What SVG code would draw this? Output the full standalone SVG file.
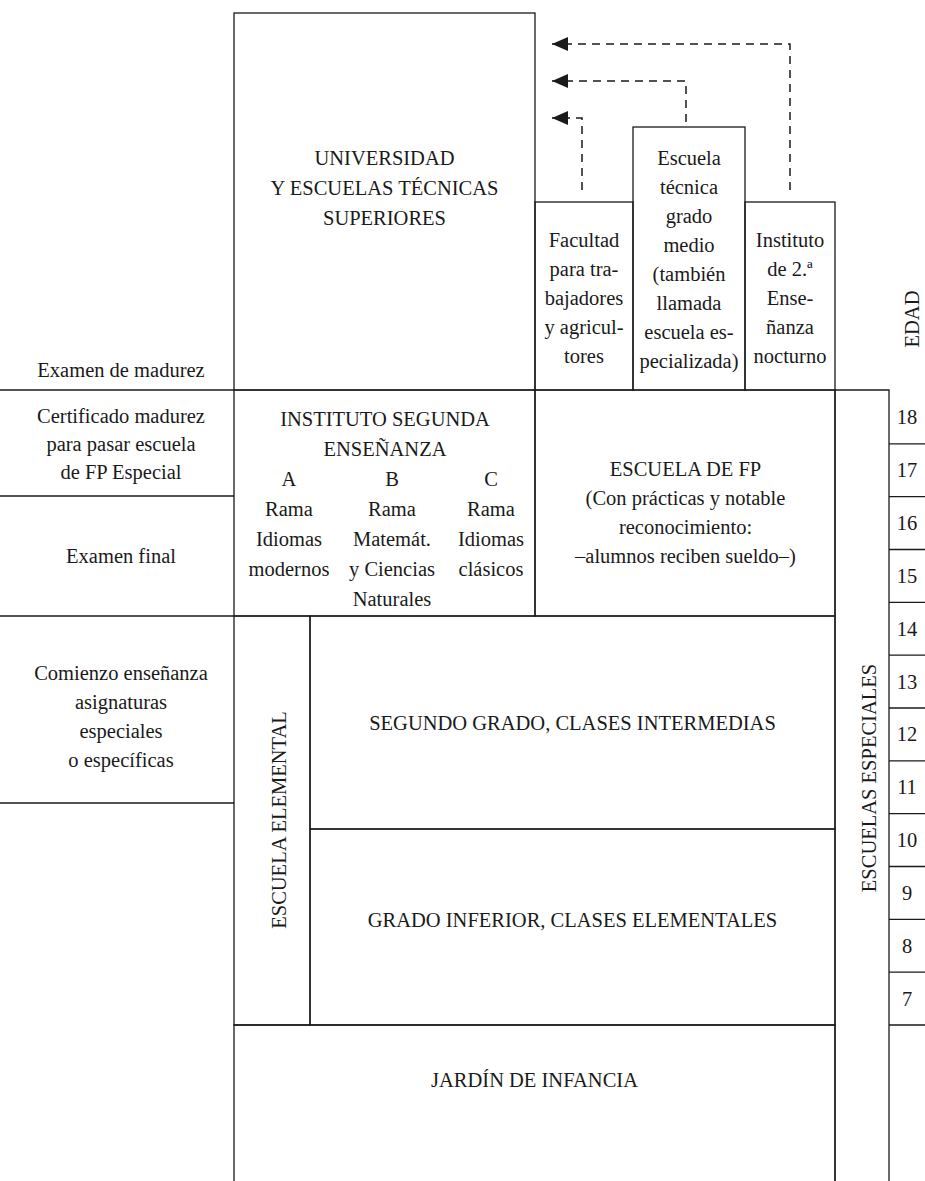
<svg xmlns="http://www.w3.org/2000/svg" width="925" height="1181" viewBox="0 0 925 1181">
<style>
  .ln{stroke:#1a1a1a;stroke-width:1.3;fill:none}
  .bx{fill:none;stroke:#1a1a1a;stroke-width:1.3}
  .dash{stroke:#1a1a1a;stroke-width:1.5;fill:none;stroke-dasharray:8 6}
  text{font-family:"Liberation Serif","Times New Roman",serif;font-size:20.5px;fill:#1a1a1a;text-anchor:middle}
</style>
<defs>
  <marker id="ah" markerUnits="userSpaceOnUse" markerWidth="17" markerHeight="14" refX="16" refY="7" orient="auto">
    <path d="M0,0 L16,7 L0,14 Z" fill="#1a1a1a"/>
  </marker>
</defs>
<rect width="925" height="1181" fill="#ffffff"/>

<g id="left-labels">
  <line class="ln" x1="0" y1="390" x2="234" y2="390"/>
  <line class="ln" x1="0" y1="496" x2="234" y2="496"/>
  <line class="ln" x1="0" y1="616" x2="234" y2="616"/>
  <line class="ln" x1="0" y1="803" x2="234" y2="803"/>
</g>
<g id="examen-madurez"><text x="121" y="377">Examen de madurez</text></g>
<g id="certificado">
  <text x="121" y="423">Certificado madurez</text>
  <text x="121" y="451">para pasar escuela</text>
  <text x="121" y="479">de FP Especial</text>
</g>
<g id="examen-final"><text x="121" y="563">Examen final</text></g>
<g id="comienzo">
  <text x="121" y="680">Comienzo enseñanza</text>
  <text x="121" y="709">asignaturas</text>
  <text x="121" y="738">especiales</text>
  <text x="121" y="767">o específicas</text>
</g>

<g id="universidad">
  <rect class="bx" x="234" y="13" width="301" height="377"/>
  <text x="384.5" y="165">UNIVERSIDAD</text>
  <text x="384.5" y="195">Y ESCUELAS TÉCNICAS</text>
  <text x="384.5" y="225">SUPERIORES</text>
</g>
<g id="facultad">
  <rect class="bx" x="535" y="202" width="98" height="188"/>
  <text x="584" y="247">Facultad</text>
  <text x="584" y="276">para tra-</text>
  <text x="584" y="305">bajadores</text>
  <text x="584" y="334">y agricul-</text>
  <text x="584" y="363">tores</text>
</g>
<g id="escuela-tecnica">
  <rect class="bx" x="633" y="127" width="112" height="263"/>
  <text x="689" y="165">Escuela</text>
  <text x="689" y="194">técnica</text>
  <text x="689" y="223">grado</text>
  <text x="689" y="252">medio</text>
  <text x="689" y="281">(también</text>
  <text x="689" y="310">llamada</text>
  <text x="689" y="339">escuela es-</text>
  <text x="689" y="368">pecializada)</text>
</g>
<g id="instituto-nocturno">
  <rect class="bx" x="745" y="202" width="90" height="188"/>
  <text x="790" y="247">Instituto</text>
  <text x="790" y="276">de 2.ª</text>
  <text x="790" y="305">Ense-</text>
  <text x="790" y="334">ñanza</text>
  <text x="790" y="363">nocturno</text>
</g>

<g id="instituto-segunda">
  <rect class="bx" x="234" y="390" width="301" height="226"/>
  <text x="385" y="426">INSTITUTO SEGUNDA</text>
  <text x="385" y="456">ENSEÑANZA</text>
  <text x="289" y="486">A</text>
  <text x="392" y="486">B</text>
  <text x="491" y="486">C</text>
  <text x="289" y="516">Rama</text>
  <text x="392" y="516">Rama</text>
  <text x="491" y="516">Rama</text>
  <text x="289" y="546">Idiomas</text>
  <text x="392" y="546">Matemát.</text>
  <text x="491" y="546">Idiomas</text>
  <text x="289" y="576">modernos</text>
  <text x="392" y="576">y Ciencias</text>
  <text x="491" y="576">clásicos</text>
  <text x="392" y="606">Naturales</text>
</g>
<g id="escuela-fp">
  <rect class="bx" x="535" y="390" width="300" height="226"/>
  <text x="685.5" y="476">ESCUELA DE FP</text>
  <text x="685.5" y="505">(Con prácticas y notable</text>
  <text x="685.5" y="534">reconocimiento:</text>
  <text x="685.5" y="563">–alumnos reciben sueldo–)</text>
</g>
<g id="escuela-elemental">
  <rect class="bx" x="234" y="616" width="76" height="409"/>
  <text transform="translate(286,820) rotate(-90)" x="0" y="0">ESCUELA ELEMENTAL</text>
</g>
<g id="segundo-grado">
  <rect class="bx" x="310" y="616" width="525" height="213"/>
  <text x="572.5" y="730">SEGUNDO GRADO, CLASES INTERMEDIAS</text>
</g>
<g id="grado-inferior">
  <rect class="bx" x="310" y="829" width="525" height="196"/>
  <text x="572.5" y="927">GRADO INFERIOR, CLASES ELEMENTALES</text>
</g>
<g id="jardin">
  <path class="ln" d="M234,1181 V1025 H835 V1181"/>
  <text x="534.5" y="1087">JARDÍN DE INFANCIA</text>
</g>
<g id="escuelas-especiales">
  <path class="ln" d="M835,1181 V390 H889 V1181"/>
  <text transform="translate(876,778) rotate(-90)" x="0" y="0">ESCUELAS ESPECIALES</text>
</g>
<g id="edad">
  <text transform="translate(919,319) rotate(-90)" x="0" y="0">EDAD</text>
</g>
<g id="edades">
  <line class="ln" x1="889" y1="443.8" x2="925" y2="443.8"/>
  <line class="ln" x1="889" y1="496.7" x2="925" y2="496.7"/>
  <line class="ln" x1="889" y1="549.5" x2="925" y2="549.5"/>
  <line class="ln" x1="889" y1="602.3" x2="925" y2="602.3"/>
  <line class="ln" x1="889" y1="655.2" x2="925" y2="655.2"/>
  <line class="ln" x1="889" y1="708" x2="925" y2="708"/>
  <line class="ln" x1="889" y1="760.8" x2="925" y2="760.8"/>
  <line class="ln" x1="889" y1="813.7" x2="925" y2="813.7"/>
  <line class="ln" x1="889" y1="866.5" x2="925" y2="866.5"/>
  <line class="ln" x1="889" y1="919.3" x2="925" y2="919.3"/>
  <line class="ln" x1="889" y1="972.2" x2="925" y2="972.2"/>
  <line class="ln" x1="889" y1="1025" x2="925" y2="1025"/>
  <text x="907" y="424">18</text>
  <text x="907" y="477">17</text>
  <text x="907" y="530">16</text>
  <text x="907" y="583">15</text>
  <text x="907" y="636">14</text>
  <text x="907" y="689">13</text>
  <text x="907" y="741">12</text>
  <text x="907" y="794">11</text>
  <text x="907" y="847">10</text>
  <text x="907" y="900">9</text>
  <text x="907" y="953">8</text>
  <text x="907" y="1006">7</text>
</g>

<g id="connectors">
  <path class="dash" d="M790,190 V44 H552" marker-end="url(#ah)"/>
  <path class="dash" d="M686,122 V81 H552" marker-end="url(#ah)"/>
  <path class="dash" d="M582,190 V118 H552" marker-end="url(#ah)"/>
</g>
</svg>
